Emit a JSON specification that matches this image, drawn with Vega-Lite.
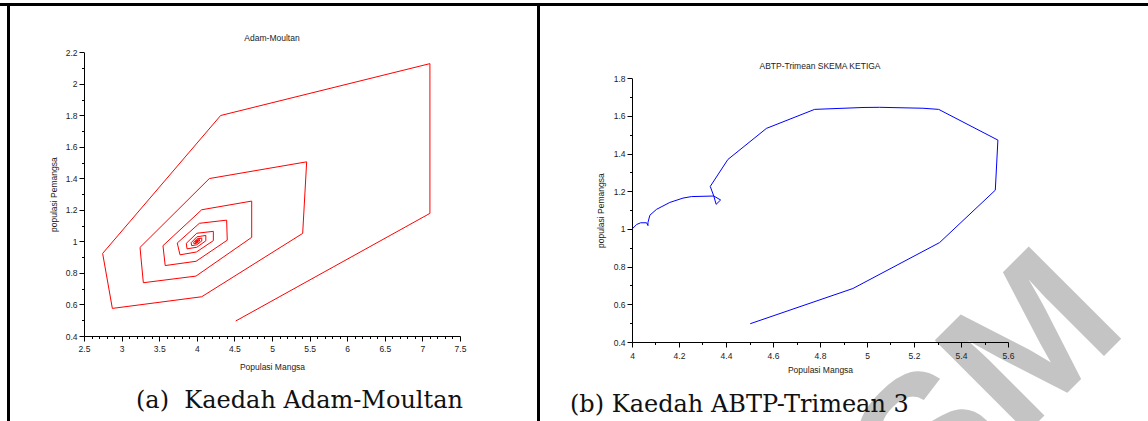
{
  "$schema": "https://vega.github.io/schema/vega-lite/v6.json",
  "padding": 0,
  "background": "white",
  "datasets": {
    "kosong": [],
    "adam": [
      {"langkah": 1, "mangsa": 4.517, "pemangsa": 0.495},
      {"langkah": 2, "mangsa": 7.1, "pemangsa": 1.178},
      {"langkah": 3, "mangsa": 7.1, "pemangsa": 2.128},
      {"langkah": 4, "mangsa": 4.317, "pemangsa": 1.799},
      {"langkah": 5, "mangsa": 2.748, "pemangsa": 0.924},
      {"langkah": 6, "mangsa": 2.877, "pemangsa": 0.575},
      {"langkah": 7, "mangsa": 4.065, "pemangsa": 0.649},
      {"langkah": 8, "mangsa": 5.408, "pemangsa": 1.051},
      {"langkah": 9, "mangsa": 5.461, "pemangsa": 1.505},
      {"langkah": 10, "mangsa": 4.167, "pemangsa": 1.399},
      {"langkah": 11, "mangsa": 3.245, "pemangsa": 0.962},
      {"langkah": 12, "mangsa": 3.289, "pemangsa": 0.738},
      {"langkah": 13, "mangsa": 3.989, "pemangsa": 0.78},
      {"langkah": 14, "mangsa": 4.73, "pemangsa": 1.026},
      {"langkah": 15, "mangsa": 4.73, "pemangsa": 1.256},
      {"langkah": 16, "mangsa": 4.065, "pemangsa": 1.201},
      {"langkah": 17, "mangsa": 3.55, "pemangsa": 0.973},
      {"langkah": 18, "mangsa": 3.58, "pemangsa": 0.847},
      {"langkah": 19, "mangsa": 3.99, "pemangsa": 0.874},
      {"langkah": 20, "mangsa": 4.405, "pemangsa": 1.008},
      {"langkah": 21, "mangsa": 4.397, "pemangsa": 1.135},
      {"langkah": 22, "mangsa": 4.034, "pemangsa": 1.115},
      {"langkah": 23, "mangsa": 3.74, "pemangsa": 0.99},
      {"langkah": 24, "mangsa": 3.777, "pemangsa": 0.915},
      {"langkah": 25, "mangsa": 3.995, "pemangsa": 0.933},
      {"langkah": 26, "mangsa": 4.22, "pemangsa": 1.005},
      {"langkah": 27, "mangsa": 4.22, "pemangsa": 1.064},
      {"langkah": 28, "mangsa": 4.0, "pemangsa": 1.052},
      {"langkah": 29, "mangsa": 3.86, "pemangsa": 0.988},
      {"langkah": 30, "mangsa": 3.87, "pemangsa": 0.953},
      {"langkah": 31, "mangsa": 4.0, "pemangsa": 0.963},
      {"langkah": 32, "mangsa": 4.12, "pemangsa": 1.004},
      {"langkah": 33, "mangsa": 4.12, "pemangsa": 1.038},
      {"langkah": 34, "mangsa": 4.0, "pemangsa": 1.029},
      {"langkah": 35, "mangsa": 3.925, "pemangsa": 0.992},
      {"langkah": 36, "mangsa": 3.932, "pemangsa": 0.973},
      {"langkah": 37, "mangsa": 4.0, "pemangsa": 0.979},
      {"langkah": 38, "mangsa": 4.066, "pemangsa": 1.003},
      {"langkah": 39, "mangsa": 4.066, "pemangsa": 1.021},
      {"langkah": 40, "mangsa": 4.0, "pemangsa": 1.016},
      {"langkah": 41, "mangsa": 3.958, "pemangsa": 0.995},
      {"langkah": 42, "mangsa": 3.962, "pemangsa": 0.985},
      {"langkah": 43, "mangsa": 4.0, "pemangsa": 0.989},
      {"langkah": 44, "mangsa": 4.036, "pemangsa": 1.002},
      {"langkah": 45, "mangsa": 4.036, "pemangsa": 1.012},
      {"langkah": 46, "mangsa": 4.0, "pemangsa": 1.009},
      {"langkah": 47, "mangsa": 3.977, "pemangsa": 0.997},
      {"langkah": 48, "mangsa": 3.979, "pemangsa": 0.992},
      {"langkah": 49, "mangsa": 4.0, "pemangsa": 0.994},
      {"langkah": 50, "mangsa": 4.02, "pemangsa": 1.001},
      {"langkah": 51, "mangsa": 4.02, "pemangsa": 1.007},
      {"langkah": 52, "mangsa": 4.0, "pemangsa": 1.005},
      {"langkah": 53, "mangsa": 3.987, "pemangsa": 0.998},
      {"langkah": 54, "mangsa": 3.989, "pemangsa": 0.995},
      {"langkah": 55, "mangsa": 4.0, "pemangsa": 0.997},
      {"langkah": 56, "mangsa": 4.011, "pemangsa": 1.0},
      {"langkah": 57, "mangsa": 4.011, "pemangsa": 1.004},
      {"langkah": 58, "mangsa": 4.0, "pemangsa": 1.003},
      {"langkah": 59, "mangsa": 3.993, "pemangsa": 0.999},
      {"langkah": 60, "mangsa": 4.0, "pemangsa": 1.0}
    ],
    "abtp": [
      {"langkah": 1, "mangsa": 4.503, "pemangsa": 0.497},
      {"langkah": 2, "mangsa": 4.94, "pemangsa": 0.684},
      {"langkah": 3, "mangsa": 5.309, "pemangsa": 0.928},
      {"langkah": 4, "mangsa": 5.546, "pemangsa": 1.206},
      {"langkah": 5, "mangsa": 5.557, "pemangsa": 1.472},
      {"langkah": 6, "mangsa": 5.305, "pemangsa": 1.635},
      {"langkah": 7, "mangsa": 5.238, "pemangsa": 1.641},
      {"langkah": 8, "mangsa": 5.054, "pemangsa": 1.646},
      {"langkah": 9, "mangsa": 4.983, "pemangsa": 1.645},
      {"langkah": 10, "mangsa": 4.777, "pemangsa": 1.635},
      {"langkah": 11, "mangsa": 4.572, "pemangsa": 1.534},
      {"langkah": 12, "mangsa": 4.408, "pemangsa": 1.369},
      {"langkah": 13, "mangsa": 4.333, "pemangsa": 1.226},
      {"langkah": 14, "mangsa": 4.348, "pemangsa": 1.175},
      {"langkah": 15, "mangsa": 4.377, "pemangsa": 1.154},
      {"langkah": 16, "mangsa": 4.358, "pemangsa": 1.131},
      {"langkah": 17, "mangsa": 4.348, "pemangsa": 1.175},
      {"langkah": 18, "mangsa": 4.253, "pemangsa": 1.172},
      {"langkah": 19, "mangsa": 4.217, "pemangsa": 1.164},
      {"langkah": 20, "mangsa": 4.161, "pemangsa": 1.141},
      {"langkah": 21, "mangsa": 4.104, "pemangsa": 1.104},
      {"langkah": 22, "mangsa": 4.076, "pemangsa": 1.073},
      {"langkah": 23, "mangsa": 4.068, "pemangsa": 1.035},
      {"langkah": 24, "mangsa": 4.068, "pemangsa": 1.018},
      {"langkah": 25, "mangsa": 4.062, "pemangsa": 1.033},
      {"langkah": 26, "mangsa": 4.037, "pemangsa": 1.033},
      {"langkah": 27, "mangsa": 4.02, "pemangsa": 1.024},
      {"langkah": 28, "mangsa": 4.003, "pemangsa": 1.003}
    ]
  },
  "config": {
    "view": {"stroke": null},
    "axis": {
      "grid": false,
      "domainColor": "#000000",
      "domainWidth": 1,
      "tickColor": "#000000",
      "tickWidth": 1,
      "labelFont": "Liberation Sans",
      "labelFontSize": 8.5,
      "labelColor": "#222222",
      "titleFont": "Liberation Sans",
      "titleFontSize": 8.5,
      "titleFontWeight": "normal",
      "titleColor": "#222222",
      "labelOverlap": false,
      "labelFlush": false,
      "labelBound": false
    },
    "title": {"font": "Liberation Sans", "fontSize": 8.5, "fontWeight": "normal", "color": "#222222"}
  },
  "vconcat": [
    {"width": 1148, "height": 3, "data": {"name": "kosong"}, "mark": "point"},
    {"width": 1148, "height": 3, "data": {"name": "kosong"}, "mark": "point", "view": {"fill": "#000000", "stroke": null}},
    {
      "hconcat": [
        {"width": 7, "height": 415, "data": {"name": "kosong"}, "mark": "point"},
        {"width": 3, "height": 415, "data": {"name": "kosong"}, "mark": "point", "view": {"fill": "#000000", "stroke": null}},
        {
          "width": 74, "height": 415, "data": {"name": "kosong"}, "mark": "point",
          "title": {"text": "(a)\u00a0 Kaedah Adam-Moultan", "orient": "bottom", "anchor": "start", "frame": "group", "dx": 126, "offset": -13, "baseline": "alphabetic", "font": "DejaVu Serif", "fontSize": 24, "fontWeight": "normal", "color": "#111111"}
        },
        {
          "width": 376, "height": 330,
          "title": {"text": "Adam-Moultan", "anchor": "middle", "frame": "group", "offset": -43, "baseline": "alphabetic"},
          "data": {"name": "adam"},
          "mark": {"type": "line", "color": "#ff0000", "strokeWidth": 1},
          "encoding": {
            "order": {"field": "langkah", "type": "quantitative"},
            "x": {
              "field": "mangsa", "type": "quantitative",
              "scale": {"domain": [2.5, 7.5], "nice": false, "zero": false},
              "axis": {
                "title": "Populasi Mangsa",
                "values": [2.5,2.6,2.7,2.8,2.9,3,3.1,3.2,3.3,3.4,3.5,3.6,3.7,3.8,3.9,4,4.1,4.2,4.3,4.4,4.5,4.6,4.7,4.8,4.9,5,5.1,5.2,5.3,5.4,5.5,5.6,5.7,5.8,5.9,6,6.1,6.2,6.3,6.4,6.5,6.6,6.7,6.8,6.9,7,7.1,7.2,7.3,7.4,7.5],
                "labelExpr": "abs(datum.value*2-round(datum.value*2))<0.001 ? format(datum.value,'~g') : ''",
                "tickSize": {"condition": {"test": "abs(datum.value*2-round(datum.value*2))<0.001", "value": 5}, "value": 2.5},
                "labelPadding": 3,
                "titlePadding": 10
              }
            },
            "y": {
              "field": "pemangsa", "type": "quantitative",
              "scale": {"domain": [0.4, 2.2], "nice": false, "zero": false, "range": [330, 46.3]},
              "axis": {
                "title": "populasi Pemangsa",
                "values": [0.4,0.5,0.6,0.7,0.8,0.9,1,1.1,1.2,1.3,1.4,1.5,1.6,1.7,1.8,1.9,2,2.1,2.2],
                "labelExpr": "abs(datum.value*5-round(datum.value*5))<0.001 ? format(datum.value,'~g') : ''",
                "tickSize": {"condition": {"test": "abs(datum.value*5-round(datum.value*5))<0.001", "value": 5}, "value": 2.5},
                "labelPadding": 2,
                "titlePadding": 7
              }
            }
          }
        },
        {
          "width": 77, "height": 415, "data": {"name": "kosong"}, "mark": "point",
          "title": {"text": "USM", "orient": "bottom", "anchor": "end", "frame": "group", "offset": 502, "dx": 839, "angle": -45, "align": "right", "baseline": "alphabetic", "font": "Liberation Sans", "fontSize": 190, "fontWeight": "bold", "color": "#c4c4c4"}
        },
        {"width": 3, "height": 415, "data": {"name": "kosong"}, "mark": "point", "view": {"fill": "#000000", "stroke": null}},
        {
          "width": 92, "height": 415, "data": {"name": "kosong"}, "mark": "point",
          "title": {"text": "(b) Kaedah ABTP-Trimean 3", "orient": "bottom", "anchor": "start", "frame": "group", "dx": 30, "offset": -9, "baseline": "alphabetic", "font": "DejaVu Serif", "fontSize": 24, "fontWeight": "normal", "color": "#111111"}
        },
        {
          "width": 376, "height": 336,
          "title": {"text": "ABTP-Trimean SKEMA KETIGA", "anchor": "middle", "frame": "group", "offset": -71, "baseline": "alphabetic"},
          "data": {"name": "abtp"},
          "mark": {"type": "line", "color": "#0000ff", "strokeWidth": 1},
          "encoding": {
            "order": {"field": "langkah", "type": "quantitative"},
            "x": {
              "field": "mangsa", "type": "quantitative",
              "scale": {"domain": [4, 5.6], "nice": false, "zero": false},
              "axis": {
                "title": "Populasi Mangsa",
                "values": [4,4.1,4.2,4.3,4.4,4.5,4.6,4.7,4.8,4.9,5,5.1,5.2,5.3,5.4,5.5,5.6],
                "labelExpr": "abs(datum.value*5-round(datum.value*5))<0.001 ? format(datum.value,'~g') : ''",
                "tickSize": {"condition": {"test": "abs(datum.value*5-round(datum.value*5))<0.001", "value": 5}, "value": 2.5},
                "labelPadding": 4,
                "titlePadding": 6
              }
            },
            "y": {
              "field": "pemangsa", "type": "quantitative",
              "scale": {"domain": [0.4, 1.8], "nice": false, "zero": false, "range": [336, 72.3]},
              "axis": {
                "title": "populasi Pemangsa",
                "values": [0.4,0.5,0.6,0.7,0.8,0.9,1,1.1,1.2,1.3,1.4,1.5,1.6,1.7,1.8],
                "labelExpr": "abs(datum.value*5-round(datum.value*5))<0.001 ? format(datum.value,'~g') : ''",
                "tickSize": {"condition": {"test": "abs(datum.value*5-round(datum.value*5))<0.001", "value": 5}, "value": 2.5},
                "labelPadding": 2,
                "titlePadding": 8
              }
            }
          }
        },
        {"width": 140, "height": 415, "data": {"name": "kosong"}, "mark": "point"}
      ],
      "spacing": 0,
      "bounds": "flush"
    }
  ],
  "spacing": 0,
  "bounds": "flush"
}
